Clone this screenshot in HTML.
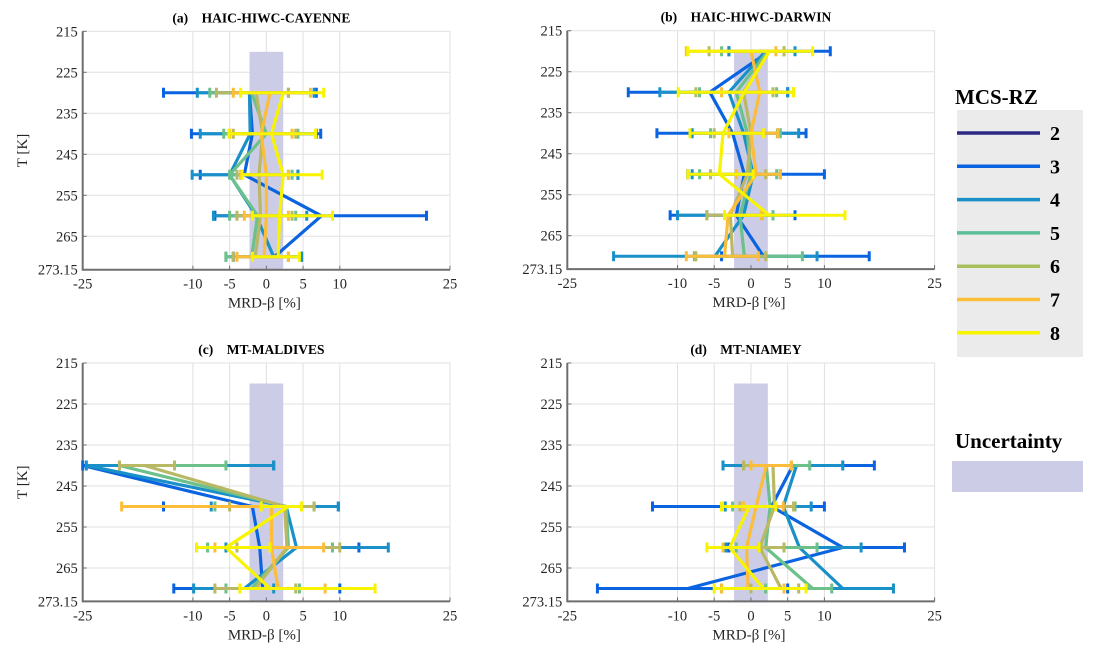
<!DOCTYPE html>
<html><head><meta charset="utf-8">
<style>
html,body{margin:0;padding:0;background:#fff;}
svg text{font-family:"Liberation Serif",serif;}
</style></head>
<body>
<svg id="fig" width="1095" height="656" viewBox="0 0 1095 656" xmlns="http://www.w3.org/2000/svg">
<g id="panels"></g>
<g id="legend">
  <text x="955" y="104" font-size="21" font-weight="bold">MCS-RZ</text>
  <rect x="957" y="110" width="126" height="247" fill="#ebebeb"/>
  <text x="955" y="448" font-size="21" font-weight="bold">Uncertainty</text>
  <rect x="952" y="461" width="131" height="31" fill="#cccce6"/>
</g>
</svg>
<script>
const seriesColors = {3:"#0a63e0",4:"#1a90c8",5:"#6cc08a",6:"#b8b865",7:"#fbbd3a",8:"#f8f400"};
const seriesIds = [3,4,5,6,7,8];
const legendIds = [2,3,4,5,6,7,8];
const legendColors = ["#2d2a86","#0a63e0","#1a90c8","#5cbf9a","#a8c05c","#fbbd3a","#f8f400"];
const xTicks = [-25,-10,-5,0,5,10,25];
const xGrid = [-10,-5,0,5,10];
const yTicks = [215,225,235,245,255,265,273.15];
const yTickLabels = ["215","225","235","245","255","265","273.15"];

// Panel (a)
const tempsA = [230,240,250,260,270];
const meanA = [[-2.3,-1.9,-3,7.5,1.1],[-2.3,-2.2,-5,-1.4,1.0],[-2.0,0,-5,-1.2,-2],[-1.4,-0.5,-1,-0.8,-1.5],[0.5,-0.7,0,0,-0.3],[2.3,0.7,2.3,1.8,1.6]];
const loA = [[-14,-10.2,-9,-7,-4.5],[-9.4,-9,-10.1,-7.2,-5.5],[-7.7,-5.8,-5,-5,-5.5],[-6.8,-4.5,-4,-4,-4.5],[-4.5,-5,-3.5,-3,-4],[-3.5,-5.1,-3.3,-1.9,-1.9]];
const hiA = [[6.8,7.4,4.3,21.8,4.8],[6.5,6.8,4.3,5.5,4.8],[3,4.3,3.5,4,3],[3,4,3,3.5,3],[6,3.5,3,3,3],[7.8,6.7,7.6,9,4.5]];
// Panel (b)
const tempsB = [220,230,240,250,260,270];
const meanB = [[2.5,-5.6,-2.5,-0.9,-2,1.7],[2,-3,-1,0.3,-1,-4.9],[2.3,-2,-0.5,0,-1.5,-0.9],[2.5,-1,0,-0.5,-2.8,-2.5],[0,1.2,0,0.7,-3.1,-3.6],[2.5,-0.9,-3.8,-4.3,2.5,null]];
const loB = [[-3,-16.7,-12.8,-8.6,-11,-4],[-3,-12.4,-8,-8,-10,-18.7],[-4,-7,-5.5,-7,-6,-7.7],[-5.7,-7.5,-5,-5.5,-6,-7.5],[-8.8,-4,-3,-2,-3.6,-8.8],[-8.6,-9.9,-8.3,-8.6,-3.6,null]];
const hiB = [[10.8,5,7.5,10,6,16.1],[6,5,6.5,4,3,9],[4.5,3.5,4,3.5,3,7],[4.5,3,3.6,2,1.5,2],[3.4,5.8,3.7,4,1.4,1],[8.4,5.8,1.7,0.3,12.8,null]];
// Panel (c)
const tempsC = [240,250,260,270];
const meanC = [[-25,-1.9,-0.9,-0.5],[-24.5,2.7,4.1,-3],[-20,2.7,3,-2],[-16.6,2.5,2.8,-1.5],[null,0.7,0.7,1.6],[null,3,-5.5,0.5]];
const loC = [[-25,-14,-9.5,-12.6],[-24.5,-7.5,-5.5,-9.9],[-20,-7,-8,-5.5],[-20,-5,-4,-7],[null,-19.7,-7,-3.6],[null,-0.7,-9.5,-3.6]];
const hiC = [[1,9.8,12.6,10],[1,9.8,16.6,1],[-5.5,6.5,9,4.5],[-12.5,6.5,10,4],[null,4.8,7.8,8],[null,4.8,0.5,14.8]];
// Panel (d)
const tempsD = [240,250,260,270];
const meanD = [[5.7,2.8,12.5,-8.6],[6.2,4.4,6.6,12.5],[2.1,2.6,2,8.4],[3,3.2,1.2,4.1],[2.1,0.7,-0.6,-0.4],[null,-0.2,-2.9,1.7]];
const loD = [[-3.8,-13.4,-3,-20.9],[-3.8,-3.5,-3.4,-4],[-1,-2.5,-2,2],[-1,-1.5,1.4,0],[0,-1,-3.8,-4],[null,-4,-6,-5]];
const hiD = [[16.8,10,20.9,5],[12.5,8.2,15,19.4],[8,6,9,11],[5.5,5.8,4.5,6.5],[5.5,4.4,1,4.5],[null,3.4,1.1,7.5]];
const uncLo = -2.3, uncHi = 2.3, uncTop = 220;

const panels = [
 {id:"a",title:"(a)    HAIC-HIWC-CAYENNE",left:82.7,top:31.3,temps:tempsA,mean:meanA,lo:loA,hi:hiA,ylabel:true},
 {id:"b",title:"(b)    HAIC-HIWC-DARWIN",left:567.3,top:30.7,temps:tempsB,mean:meanB,lo:loB,hi:hiB,ylabel:false},
 {id:"c",title:"(c)    MT-MALDIVES",left:82.7,top:363,temps:tempsC,mean:meanC,lo:loC,hi:hiC,ylabel:true},
 {id:"d",title:"(d)    MT-NIAMEY",left:567.3,top:363,temps:tempsD,mean:meanD,lo:loD,hi:hiD,ylabel:false}
];
const NS="http://www.w3.org/2000/svg";
function mk(tag,attrs,parent){const e=document.createElementNS(NS,tag);for(const k in attrs)e.setAttribute(k,attrs[k]);parent.appendChild(e);return e;}
const root=document.getElementById("panels");
const W=367.3, PXK=4.1;
panels.forEach(p=>{
  const g=mk("g",{},root);
  
  
  const H=58.15*PXK;
  const xs=v=>p.left+(v+25)/50*W;
  const ys=t=>p.top+(t-215)*PXK;
  const bg=mk("rect",{x:p.left,y:p.top,width:W,height:H,fill:"#fff",stroke:"#e2e2e2","stroke-width":1},g);
  
  
  xGrid.forEach(v=>{const l=mk("line",{x1:xs(v),x2:xs(v),y1:p.top,y2:p.top+H,stroke:"#e0e0e0","stroke-width":1},g);
    
    });
  yTicks.slice(1,6).forEach(t=>{const l=mk("line",{x1:p.left,x2:p.left+W,y1:ys(t),y2:ys(t),stroke:"#e0e0e0","stroke-width":1},g);
    
    });
  const band=mk("rect",{x:xs(uncLo),y:ys(uncTop),width:xs(uncHi)-xs(uncLo),height:ys(273.15)-ys(uncTop),fill:"#cccce6"},g);
  
  
  const ax=mk("path",{d:`M${p.left},${p.top} V${p.top+H} H${p.left+W}`,fill:"none",stroke:"#6e6e6e","stroke-width":2},g);
  
  
  xTicks.forEach(v=>{
    mk("line",{x1:xs(v),x2:xs(v),y1:p.top+H,y2:p.top+H-4,stroke:"#6e6e6e"},g);
    const t=mk("text",{x:xs(v),y:p.top+H+19,"text-anchor":"middle","font-size":14.5,fill:"#262626"},g);
    t.textContent=String(v);
    
    
  });
  yTicks.forEach((v,i)=>{
    mk("line",{x1:p.left,x2:p.left+4,y1:ys(v),y2:ys(v),stroke:"#6e6e6e"},g);
    const t=mk("text",{x:p.left-5,y:ys(v)+5,"text-anchor":"end","font-size":14.5,fill:"#262626"},g);
    t.textContent=yTickLabels[i];
    
    
  });
  const xl=mk("text",{x:p.left+W/2-2,y:p.top+H+38,"text-anchor":"middle","font-size":15,fill:"#262626"},g);
  xl.textContent="MRD-β [%]";
  
  
  if(p.ylabel){
    const yl=mk("text",{x:0,y:0,"text-anchor":"middle","font-size":15,fill:"#262626",transform:`translate(27,${p.top+H/2}) rotate(-90)`},g);
    yl.textContent="T [K]";
    
    
  }
  const ti=mk("text",{x:p.left+W/2-5,y:p.top-9,"text-anchor":"middle","font-size":13.5,"font-weight":"bold",fill:"#000"},g);
  ti.textContent=p.title;
  ti.style.whiteSpace="pre";
  
  
  seriesIds.forEach((sid,si)=>{
    const sg=mk("g",{},g);
    
    
    const col=seriesColors[sid];
    p.temps.forEach((T,k)=>{
      const lo=p.lo[si][k], hi=p.hi[si][k];
      if(lo==null||hi==null) return;
      const y=ys(T);
      const eb=mk("path",{d:`M${xs(lo)},${y} H${xs(hi)} M${xs(lo)},${y-5} V${y+5} M${xs(hi)},${y-5} V${y+5}`,stroke:col,"stroke-width":3,fill:"none"},sg);
      
      
    });
    let d="";
    p.temps.forEach((T,k)=>{const m=p.mean[si][k]; if(m==null) return; d+=(d?" L":"M")+xs(m)+","+ys(T);});
    const ln=mk("path",{d:d,stroke:col,"stroke-width":3.2,fill:"none","stroke-linejoin":"round"},sg);
    
    
  });
});
const lg=document.getElementById("legend");
legendIds.forEach((id,i)=>{
  const y=133+i*33.3;
  const l=mk("line",{x1:957,x2:1040,y1:y,y2:y,stroke:legendColors[i],"stroke-width":3.5},lg);
  
  
  const t=mk("text",{x:1050,y:y+7,"font-size":20,"font-weight":"bold",fill:"#000"},lg);
  t.textContent=String(id);
  
  
});
</script>
</body></html>
